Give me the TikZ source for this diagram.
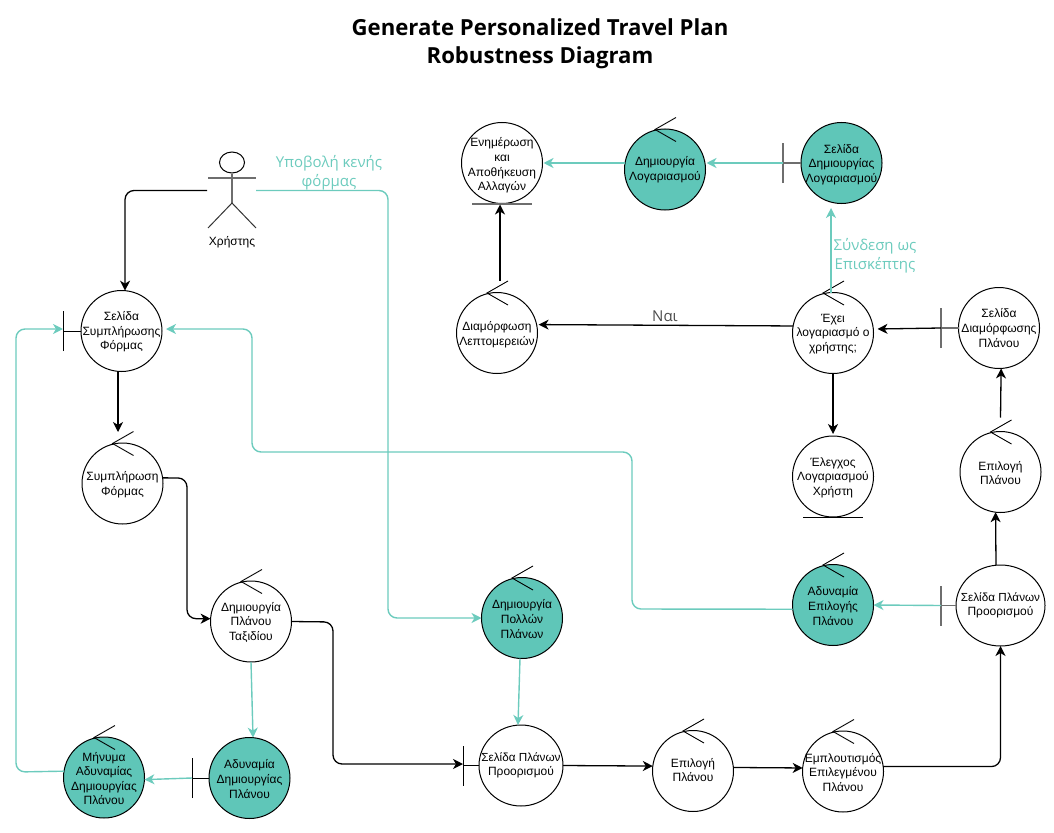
\documentclass[tikz,border=0pt]{standalone}
\usepackage{fontspec}
\setmainfont{Liberation Sans}
\newfontfamily\opensans{Open Sans}
\usetikzlibrary{arrows.meta,calc,shapes.geometric}
\definecolor{tealfill}{HTML}{5FC6B8}
\definecolor{tealline}{HTML}{6CCBBD}
\definecolor{barsgray}{HTML}{6E6E6E}
\tikzset{
  ball/.style={circle,draw=black,line width=1pt,minimum size=81pt,inner sep=0pt,outer sep=0pt},
  whiteball/.style={ball,fill=white},
  tealball/.style={ball,fill=tealfill},
  wideball/.style={whiteball,ellipse,minimum width=#1,minimum height=81pt},
  lbl/.style={align=center,font=\fontsize{12}{14.6}\selectfont,inner sep=0pt,text=black},
  tiparrow/.style={-{Stealth[length=10pt,width=10pt,inset=3pt]}},
  flow/.style={tiparrow,line width=1.3pt,draw=black,rounded corners=9pt},
  tflow/.style={tiparrow,line width=1.4pt,draw=tealline,rounded corners=9pt},
  blackmark/.style={line width=.9pt,draw=black},
  graymark/.style={line width=1.2pt,draw=barsgray},
  say/.style={align=center,font=\opensans\fontsize{15}{19}\selectfont,inner sep=0pt,text=tealline},
}
% [text dy], name, x, y, style, text
\newcommand{\ball}[6][1]{%
  \node[#5] (#2) at (#3,#4) {};
  \node[lbl] (#2-text) at (#3,#4+#1) {#6};}
\newcommand{\ctlmark}[1]{%
  \draw[blackmark] ([shift={(11,-52)}]#1.center) -- ([shift={(-10,-40)}]#1.center) -- ([shift={(11,-28)}]#1.center);}
% style, name, bar x
\newcommand{\bndmark}[3]{%
  \coordinate (#2-bar) at (#3,0 |- #2.center);
  \draw[#1] ([yshift=-20]#2-bar) -- ([yshift=20]#2-bar);
  \draw[#1] (#2-bar) -- (#2.west);}
\newcommand{\entmark}[2]{%
  \draw[#1] ([shift={(-30,.5)}]#2.south) -- ([shift={(30,.5)}]#2.south);}
\begin{document}
\begin{tikzpicture}[x=1pt,y=-1pt]
\useasboundingbox (0,0) rectangle (1054,832);
\node[align=center,font=\opensans\bfseries\fontsize{22.15}{27.5}\selectfont,inner sep=0pt] (title) at (540,43.5) {Generate Personalized Travel Plan\\Robustness Diagram};

% actor
\node[ellipse,draw=black,line width=1pt,minimum width=25pt,minimum height=21pt,inner sep=0pt] (actor) at (232,162.5) {};
\coordinate (hip) at (232,203);
\coordinate (armlft) at (208,178);
\coordinate (armrgt) at (256,178);
\coordinate (footl) at (208,228);
\coordinate (footr) at (256,228);
\draw[graymark] (actor.south) -- (hip);
\draw[graymark] (armlft) -- (armrgt);
\draw[line width=1pt,draw=black!80] (footl) -- (hip) -- (footr);
\node[lbl] (actorname) at (232,242) {Χρήστης};
\coordinate (outl) at (207,190.5);
\coordinate (outr) at (256,190.5);

\ball{sel}{121.5}{331}{whiteball}{Σελίδα\\Συμπλήρωσης\\Φόρμας}
\ball{sc}{122.5}{483.5}{whiteball}{Συμπλήρωση\\Φόρμας}
\ball{dim}{251}{621.5}{whiteball}{Δημιουργία\\Πλάνου\\Ταξιδίου}
\ball{adv}{249.5}{778}{tealball}{Αδυναμία\\Δημιουργίας\\Πλάνου}
\ball{msg}{104}{777.5}{tealball}{Μήνυμα\\Αδυναμίας\\Δημιουργίας\\Πλάνου}
\ball{pol}{522}{618}{tealball}{Δημιουργία\\Πολλών\\Πλάνων}
\ball[0]{pl}{521}{765.5}{wideball=84pt}{\fontsize{11.7}{14.6}\selectfont Σελίδα Πλάνων\\Προορισμού}
\ball[-1]{ep}{693}{771}{whiteball}{Επιλογή\\Πλάνου}
\ball{emp}{843}{771.5}{whiteball}{Εμπλουτισμός\\Επιλεγμένου\\Πλάνου}
\ball[0]{top}{1000.5}{605.5}{wideball=89pt}{\fontsize{11.7}{14.6}\selectfont Σελίδα Πλάνων\\Προορισμού}
\ball{ae}{833}{605}{tealball}{Αδυναμία\\Επιλογής\\Πλάνου}
\ball{epb}{1000.5}{472}{whiteball}{Επιλογή\\Πλάνου}
\ball[0]{dia}{999}{328}{whiteball}{Σελίδα\\Διαμόρφωσης\\Πλάνου}
\ball{has}{833}{333}{whiteball}{Έχει\\λογαριασμό ο\\χρήστης;}
\ball{chk}{833}{476.5}{whiteball}{Έλεγχος\\Λογαριασμού\\Χρήστη}
\ball[2]{diam}{497}{333}{whiteball}{Διαμόρφωση\\Λεπτομερειών}
\ball[2.5]{ent}{502}{163}{whiteball}{Ενημέρωση\\και\\Αποθήκευση\\Αλλαγών}
\ball[0]{cre}{665}{169.5}{tealball}{Δημιουργία\\Λογαριασμού}
\ball[1.5]{dem}{841.5}{163}{tealball}{Σελίδα\\Δημιουργίας\\Λογαριασμού}

\ctlmark{sc}\ctlmark{dim}\ctlmark{msg}\ctlmark{pol}\ctlmark{ep}\ctlmark{emp}
\ctlmark{ae}\ctlmark{epb}\ctlmark{has}\ctlmark{diam}\ctlmark{cre}
\bndmark{blackmark}{sel}{63}
\bndmark{blackmark}{adv}{192}
\bndmark{blackmark}{pl}{463}
\bndmark{graymark}{top}{941}
\bndmark{graymark}{dia}{941}
\bndmark{graymark}{dem}{783}
\entmark{graymark}{ent}
\entmark{blackmark}{chk}

% corners
\coordinate (c1) at (388,190.5);
\coordinate (c2) at (187,478);
\coordinate (c3) at (16,772);
\coordinate (c4) at (333,622);
\coordinate (c5) at (632,609);
\coordinate (c6) at (632,452);
\coordinate (c7) at (252,452);
\coordinate (c8) at (252,329);

% black connectors
\draw[flow] (outl) -| (sel.85);
\draw[flow] ([xshift=-3.5]sel.south) -- ([shift={(-4.5,-11)}]sc.north);
\draw[flow] (sc.8) -- (c2) |- (dim.176);
\draw[flow] (dim.east) -- (c4) |- ([yshift=1.5]pl-bar);
\draw[flow] (pl.east) -- (ep.173);
\draw[flow] (ep.5) -- (emp.175);
\draw[flow] (emp.7) -| (top.south);
\draw[flow] ([xshift=-4.5]top.north) -- (epb.263);
\draw[flow] ([yshift=14]epb.north) -- (dia.273);
\draw[flow] (dia-bar) -- ([shift={(4,-4)}]has.east);
\draw[flow] (has.south) -- ([yshift=2]chk.north);
\draw[flow] (has.170) -- ([xshift=2]diam.12);
\draw[flow] ([shift={(3,-12)}]diam.north) -- ([shift={(-2,1)}]ent.south);

% teal connectors
\draw[tflow] (outr) -- (c1) |- (pol.west);
\draw[tflow] (dim.270) -- (adv.85);
\draw[tflow] (adv-bar) -- (msg.-3);
\draw[tflow] (msg.171) -- (c3) |- ([yshift=2]sel-bar);
\draw[tflow] ([xshift=-2]pol.south) -- ([xshift=-3]pl.north);
\draw[tflow] (top-bar) -- (ae.east);
\draw[tflow] (ae.186) -- (c5) -- (c6) -- (c7) -- (c8) -- ([shift={(4,-2)}]sel.east);
\draw[tflow] ([xshift=-2]has.north) -- ([shift={(-10.5,4.5)}]dem.south);
\draw[tflow] (dem-bar) -- ([xshift=1]cre.east |- dem-bar);
\draw[tflow] (cre.west |- dem-bar) -- ([xshift=1]ent.east);

% edge labels
\node[say] (lblform) at (329,173) {Υποβολή κενής\\φόρμας};
\node[say] (lblguest) at (875,256) {Σύνδεση ως\\Επισκέπτης};
\node[say,text=black!70] (lblyes) at (665,316.5) {Ναι};
\end{tikzpicture}
\end{document}
